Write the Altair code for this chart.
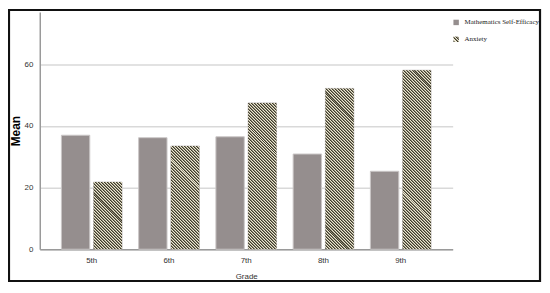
import altair as alt
import pandas as pd

# ---- data ----
grades = ["5th", "6th", "7th", "8th", "9th"]
series = ["Mathematics Self-Efficacy", "Anxiety"]
mse_values = [37.0, 36.2, 36.5, 30.9, 25.3]
anxiety_values = [21.8, 33.5, 47.5, 52.2, 58.1]
y_ticks = [0, 20, 40, 60]

# ---- layout / style ----
W, H = 416, 239
YMAX = 77
X_PAD_INNER, X_PAD_OUTER = 0.215, 0.28
OFF_PAD_INNER = 0.12
MSE_COLOR = "#958e8e"
HATCH_COLORS = ["#3d3a2b", "#8f8a76", "#ece8d2"]  # dark, mid, light per 3-px period
PERIOD = 3 / 2 ** 0.5  # hatch period perpendicular to the stripes (3 px horizontally)

step = W / (len(grades) - X_PAD_INNER + 2 * X_PAD_OUTER)
band = step * (1 - X_PAD_INNER)
ostep = band / (2 - OFF_PAD_INNER)
bar_w = ostep * (1 - OFF_PAD_INNER)


def stripe_stops(n):
    stops = []
    m = len(HATCH_COLORS)
    for i in range(n):
        for j, col in enumerate(HATCH_COLORS):
            a = (i + j / m) / n
            b = (i + (j + 1) / m) / n
            stops += [{"offset": a, "color": col}, {"offset": b, "color": col}]
    return stops


def hatch(w, h):
    diag = (w + h) / 2 ** 0.5
    n = 16
    while n * PERIOD < diag + 1:
        n *= 2
    k = n * PERIOD * 2 ** 0.5 / (w * w + h * h)
    return {"gradient": "linear", "x1": 0, "y1": 1, "x2": k * w, "y2": 1 - k * h,
            "stops": stripe_stops(n)}


legend_stops = ",".join(
    "{offset:%s,color:'%s'}" % (st["offset"], st["color"]) for st in stripe_stops(3)
)
legend_hatch = alt.ExprRef(
    expr="{gradient:'linear',x1:0,y1:1,x2:1,y2:0,stops:[" + legend_stops + "]}"
)

df = pd.DataFrame({
    "grade": grades * 2,
    "series": [series[0]] * len(grades) + [series[1]] * len(grades),
    "value": mse_values + anxiety_values,
})

x_enc = alt.X("grade:N", scale=alt.Scale(domain=grades, paddingInner=X_PAD_INNER,
                                          paddingOuter=X_PAD_OUTER),
              axis=alt.Axis(title="Grade", labelPadding=7, titleY=27,
                            titleBaseline="middle", titleFontWeight="normal",
                            titleFontSize=8, titleColor="#333333"))
xo_enc = alt.XOffset("series:N", scale=alt.Scale(domain=series, paddingInner=OFF_PAD_INNER,
                                                 paddingOuter=0))
y_enc = alt.Y("value:Q", scale=alt.Scale(domain=[0, YMAX], nice=False),
              axis=alt.Axis(title="Mean", values=y_ticks, grid=True, labelPadding=7,
                            titleX=-24, titleY=H / 2, titleAngle=270,
                            titleAlign="center", titleBaseline="middle",
                            titleFontSize=12, titleFontWeight="bold",
                            titleColor="#000000"))

base = alt.Chart(df)

bars = base.mark_bar(stroke="#cbc7c7", strokeWidth=1).encode(
    x=x_enc, xOffset=xo_enc, y=y_enc,
    color=alt.Color("series:N",
                    scale=alt.Scale(domain=series, range=[MSE_COLOR, legend_hatch]),
                    legend=alt.Legend(title=None, orient="none", legendX=416, legendY=7,
                                      symbolType="square", symbolSize=30,
                                      symbolStrokeWidth=0, labelFont="Liberation Serif",
                                      labelFontSize=7, labelColor="#222222",
                                      labelOffset=5, labelLimit=400, rowPadding=9,
                                      padding=0)),
)

conds = [
    {"test": "datum.grade === '%s'" % g, "value": hatch(bar_w, v * H / YMAX)}
    for g, v in zip(grades, anxiety_values)
]
hatched = base.mark_bar().encode(
    x=x_enc, xOffset=xo_enc, y=y_enc,
    fill={"condition": conds, "value": HATCH_COLORS[2]},
).transform_filter(alt.datum.series == series[1])

frame = alt.Chart(pd.DataFrame({"f": [0]})).mark_rect(
    fill="transparent", stroke="#111111", strokeWidth=2.2
).encode(
    x=alt.value(-31), x2=alt.value(504), y=alt.value(-2), y2=alt.value(271)
)

chart = alt.layer(bars, hatched, frame).properties(
    width=W, height=H,
    padding={"left": 32, "top": 3, "right": 90, "bottom": 34},
    autosize=alt.AutoSizeParams(type="none"),
).configure_view(strokeWidth=0).configure_axis(
    domainColor="#9a9a9a", domainWidth=1.5, ticks=False,
    gridColor="#d9d9d9", gridWidth=1.5,
    labelFont="Liberation Sans", labelFontSize=8, labelColor="#333333",
    titleFont="Liberation Sans",
).configure_axisX(labelAngle=0)

chart.save("out.html", embed_options={"renderer": "svg", "actions": False})
